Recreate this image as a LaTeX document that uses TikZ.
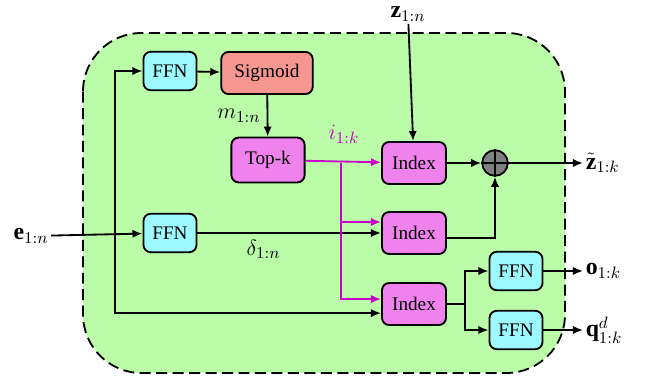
\documentclass[tikz,border=0pt]{standalone}
\usepackage{amssymb,amsmath}
\usepackage{fontspec}
\setmainfont{Liberation Serif}
\newfontfamily\blockfont{Liberation Serif}
\usepackage{xcolor}
\usepackage{tikz}
\usetikzlibrary{arrows.meta}

\definecolor{bgGreen}{RGB}{186,252,167}
\definecolor{ffnCyan}{RGB}{155,249,255}
\definecolor{sigRed}{RGB}{245,150,145}
\definecolor{idxViolet}{RGB}{240,130,238}
\definecolor{selMagenta}{RGB}{200,0,200}

\begin{document}
\begin{tikzpicture}[x=0.5464pt, y=-0.5464pt, >={Latex[length=5.5pt,width=4.5pt]}, line width=1pt,
	block/.style={draw, line width=1pt, rounded corners=4pt, inner sep=0pt, font=\blockfont\fontsize{10.5}{12}\selectfont},
	ffn/.style={block, fill=ffnCyan, minimum width=29pt, minimum height=21pt},
	sigbox/.style={block, fill=sigRed, minimum width=50pt, minimum height=23pt},
	topkbox/.style={block, fill=idxViolet, minimum width=40pt, minimum height=24.5pt},
	idxbox/.style={block, fill=idxViolet, minimum width=35pt, minimum height=23pt},
	lbl/.style={font=\fontsize{13}{15}\selectfont},
	sel/.style={selMagenta}]
					\useasboundingbox (0,0) rectangle (647,381);
					
					% shared module
					\draw[dash pattern=on 6pt off 3pt, fill=bgGreen, rounded corners=32pt] (83,33) rectangle (565,373);
					
					\node[ffn] (ffnTop) at (170,71) {FFN};
					\node[sigbox] (sigmoid) at (267,73) {Sigmoid};
					\node[topkbox] (topk) at (268,160) {Top-k};
					\node[ffn] (ffnMid) at (170,233) {FFN};
					
					\node[idxbox] (idxA) at (414,163) {Index};
					\node[idxbox] (idxB) at (414,233) {Index};
					\node[idxbox] (idxC) at (414,304) {Index};
					
					\node[draw, circle, fill=gray, minimum size=14pt, inner sep=0pt] (sum) at (495,163) {};
					\draw (sum.north) -- (sum.south);
					\draw (sum.west) -- (sum.east);
					
					\node[ffn] (ffnO) at (516,271) {FFN};
					\node[ffn] (ffnQ) at (516,330) {FFN};
					
					% inputs and outputs
					\node[lbl, inner sep=1pt] (zin) at (408,14) {$\mathbf{z}_{1:n}$};
					\node[lbl, inner sep=1pt] (ein) at (31,236) {$\mathbf{e}_{1:n}$};
					\node[lbl, anchor=west, inner sep=1pt] (zout) at (583,163) {$\tilde{\mathbf{z}}_{1:k}$};
					\node[lbl, anchor=west, inner sep=1pt] (oout) at (583,271) {$\mathbf{o}_{1:k}$};
					\node[lbl, anchor=west, inner sep=1pt] (qout) at (583,330) {$\mathbf{q}^{d}_{1:k}$};
					
					\coordinate (split) at (115,233);
					\coordinate (tap) at (341,163);
					\coordinate (fork) at (465,304);
					
					\draw[->] (ein) -- (ffnMid);
					\draw[->] (split) |- (ffnTop);
					\draw[->] (split) |- ([yshift=-5pt]idxC.west);
					\draw[->] (ffnTop) -- (sigmoid);
					\draw[->] (sigmoid) -- (topk) node[lbl, midway, left] {$m_{1:n}$};
					\draw[->] (ffnMid) -- (idxB) node[lbl, pos=0.36, below] {$\delta_{1:n}$};
					\draw[->] (zin) -- (idxA);
					
					\draw[sel, ->] (topk) -- (idxA);
					\node[lbl, sel] (ilabel) at (344,134) {$i_{1:k}$};
					\draw[sel, ->] (tap) |- ([yshift=6pt]idxB.west);
					\draw[sel, ->] (tap) |- ([yshift=2.7pt]idxC.west);
					
					\draw[->] (idxA) -- (sum);
					\draw[->] ([yshift=-2.7pt]idxB.east) -| (sum.south);
					\draw[->] (sum) -- (zout.west);
					
					\draw (idxC) -- (fork);
					\draw[->] (fork) |- (ffnO);
					\draw[->] (fork) |- (ffnQ);
					\draw[->] (ffnO) -- (oout.west);
					\draw[->] (ffnQ) -- (qout.west);
					\end{tikzpicture}
\end{document}
